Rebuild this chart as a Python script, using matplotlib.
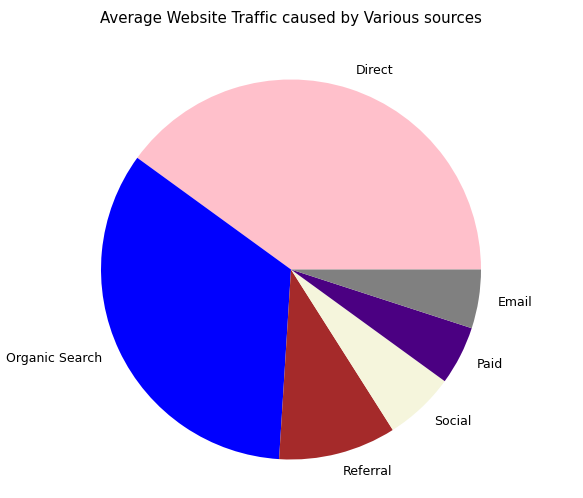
import matplotlib
matplotlib.use('Agg')
import matplotlib.pyplot as plt

# Data
sources = ['Direct', 'Organic Search', 'Referral', 'Social', 'Paid', 'Email']
traffic = [40, 34, 10, 6, 5, 5]
colors = ['pink', 'blue', 'brown', 'beige', 'indigo', 'gray']

fig = plt.figure(figsize=(5.83, 4.98), dpi=100)
# pie uses limits of +-1.25, so axes size = 2.5 * radius (190 px)
ax = fig.add_axes([(291 - 237.5) / 583, (228.5 - 237.5) / 498, 475 / 583, 475 / 498])
ax.pie(traffic, labels=sources, colors=colors, textprops={'fontsize': 9})
ax.set_aspect('equal')
fig.text(291 / 583, 1 - 18 / 498, 'Average Website Traffic caused by Various sources',
         ha='center', va='center', fontsize=10.85)

fig.savefig('out.png', dpi=100)
